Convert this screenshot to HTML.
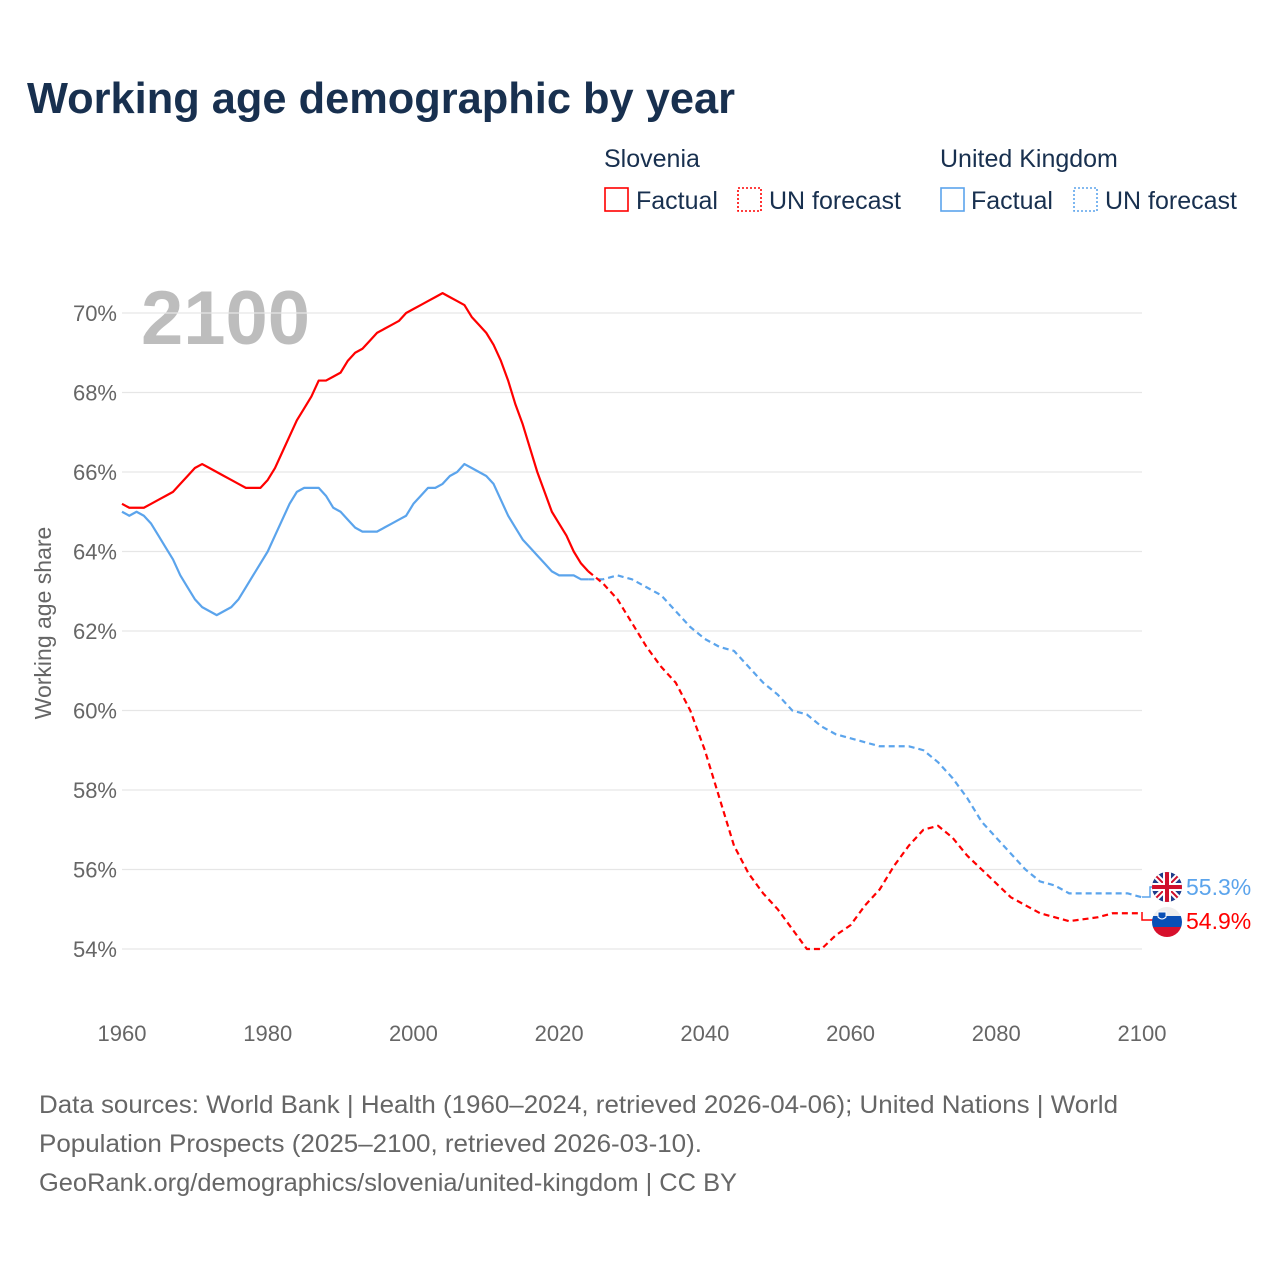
<!DOCTYPE html>
<html><head><meta charset="utf-8"><style>
body{margin:0;background:#fff;font-family:"Liberation Sans",sans-serif;}
svg text{font-family:"Liberation Sans",sans-serif;}
</style></head><body>
<svg id="chart" width="1280" height="1280" viewBox="0 0 1280 1280" xmlns="http://www.w3.org/2000/svg">
<rect width="1280" height="1280" fill="#fff"/>
<text x="27" y="113" font-size="43.5" font-weight="bold" fill="#18304f" textLength="708" lengthAdjust="spacingAndGlyphs">Working age demographic by year</text>
<g font-size="25" fill="#18304f">
<text x="604" y="167">Slovenia</text>
<text x="940" y="167">United Kingdom</text>
<g><rect x="605" y="188" width="23" height="23" fill="none" stroke="#f00" stroke-width="1.6"/><text x="636" y="209" fill="#18304f">Factual</text></g>
<g><rect x="738" y="188" width="23" height="23" fill="none" stroke="#f00" stroke-width="1.6" stroke-dasharray="2 2"/><text x="769" y="209" fill="#18304f">UN forecast</text></g>
<g><rect x="941" y="188" width="23" height="23" fill="none" stroke="#5ba4ec" stroke-width="1.6"/><text x="971" y="209" fill="#18304f">Factual</text></g>
<g><rect x="1074" y="188" width="23" height="23" fill="none" stroke="#5ba4ec" stroke-width="1.6" stroke-dasharray="2 2"/><text x="1105" y="209" fill="#18304f">UN forecast</text></g>
</g>
<text x="141" y="344" font-size="76" font-weight="bold" fill="#bdbdbd">2100</text>
<g id="grid"></g><g id="yticks"></g><g id="xticks"></g><g id="lines"></g>
<text transform="translate(51,623) rotate(-90)" text-anchor="middle" font-size="23" fill="#666">Working age share</text>
<g>
<polyline points="1142,897 1150,897 1150,887 1158,887" fill="none" stroke="#5ba4ec" stroke-width="1.5"/>
<polyline points="1142,912 1142,920 1158,920" fill="none" stroke="#f00" stroke-width="1.5"/>
<g>
<clipPath id="cu"><circle cx="1167" cy="887" r="15"/></clipPath>
<g clip-path="url(#cu)"><rect x="1150" y="870" width="34" height="34" fill="#1f3c8a"/>
<path d="M1150 870L1184 904M1184 870L1150 904" stroke="#fff" stroke-width="6"/>
<path d="M1150 870L1184 904M1184 870L1150 904" stroke="#d0102c" stroke-width="2"/>
<path d="M1167 870V904M1150 887H1184" stroke="#fff" stroke-width="8"/>
<path d="M1167 870V904M1150 887H1184" stroke="#d0102c" stroke-width="4"/></g></g>
<g>
<clipPath id="cs"><circle cx="1167" cy="922" r="15"/></clipPath>
<g clip-path="url(#cs)"><rect x="1150" y="905" width="34" height="11" fill="#eee"/><rect x="1150" y="916" width="34" height="11" fill="#0a4fb5"/><rect x="1150" y="927" width="34" height="12" fill="#d7102c"/>
<path d="M1158 912h8v5q-4 4-8 0z" fill="#0a4fb5" stroke="#fff" stroke-width="1"/></g></g>
<text x="1186" y="895" font-size="23" fill="#5ba4ec">55.3%</text>
<text x="1186" y="929" font-size="23" fill="#f00">54.9%</text>
</g>
<g font-size="25" fill="#666">
<text x="39" y="1113" textLength="1079" lengthAdjust="spacingAndGlyphs">Data sources: World Bank | Health (1960–2024, retrieved 2026-04-06); United Nations | World</text>
<text x="39" y="1152" textLength="663" lengthAdjust="spacingAndGlyphs">Population Prospects (2025–2100, retrieved 2026-03-10).</text>
<text x="39" y="1191" textLength="698" lengthAdjust="spacingAndGlyphs">GeoRank.org/demographics/slovenia/united-kingdom | CC BY</text>
</g>
</svg>
<script>
const svnFactYears=[1960,1961,1962,1963,1964,1965,1966,1967,1968,1969,1970,1971,1972,1973,1974,1975,1976,1977,1978,1979,1980,1981,1982,1983,1984,1985,1986,1987,1988,1989,1990,1991,1992,1993,1994,1995,1996,1997,1998,1999,2000,2001,2002,2003,2004,2005,2006,2007,2008,2009,2010,2011,2012,2013,2014,2015,2016,2017,2018,2019,2020,2021,2022,2023,2024];
const svnFact=[65.2,65.1,65.1,65.1,65.2,65.3,65.4,65.5,65.7,65.9,66.1,66.2,66.1,66.0,65.9,65.8,65.7,65.6,65.6,65.6,65.8,66.1,66.5,66.9,67.3,67.6,67.9,68.3,68.3,68.4,68.5,68.8,69.0,69.1,69.3,69.5,69.6,69.7,69.8,70.0,70.1,70.2,70.3,70.4,70.5,70.4,70.3,70.2,69.9,69.7,69.5,69.2,68.8,68.3,67.7,67.2,66.6,66.0,65.5,65.0,64.7,64.4,64.0,63.7,63.5];
const ukFact=[65.0,64.9,65.0,64.9,64.7,64.4,64.1,63.8,63.4,63.1,62.8,62.6,62.5,62.4,62.5,62.6,62.8,63.1,63.4,63.7,64.0,64.4,64.8,65.2,65.5,65.6,65.6,65.6,65.4,65.1,65.0,64.8,64.6,64.5,64.5,64.5,64.6,64.7,64.8,64.9,65.2,65.4,65.6,65.6,65.7,65.9,66.0,66.2,66.1,66.0,65.9,65.7,65.3,64.9,64.6,64.3,64.1,63.9,63.7,63.5,63.4,63.4,63.4,63.3,63.3];
const foreYears=[2024,2026,2028,2030,2032,2034,2036,2038,2040,2042,2044,2046,2048,2050,2052,2054,2056,2058,2060,2062,2064,2066,2068,2070,2072,2074,2076,2078,2080,2082,2084,2086,2088,2090,2092,2094,2096,2098,2100];
const svnFore=[63.5,63.2,62.8,62.2,61.6,61.1,60.7,60.0,59.0,57.8,56.6,55.9,55.4,55.0,54.5,54.0,54.0,54.35,54.6,55.1,55.5,56.1,56.6,57.0,57.1,56.8,56.35,56.0,55.65,55.3,55.1,54.9,54.8,54.7,54.75,54.8,54.9,54.9,54.9];
const ukFore=[63.3,63.3,63.4,63.3,63.1,62.9,62.5,62.1,61.8,61.6,61.5,61.1,60.7,60.4,60.0,59.9,59.6,59.4,59.3,59.2,59.1,59.1,59.1,59.0,58.7,58.3,57.8,57.2,56.8,56.4,56.0,55.7,55.6,55.4,55.4,55.4,55.4,55.4,55.3];
const yTicks=[54,56,58,60,62,64,66,68,70];
const xTicks=[1960,1980,2000,2020,2040,2060,2080,2100];
const NS="http://www.w3.org/2000/svg";
const xs=y=>122+(y-1960)*(1020/140);
const ys=v=>949-(v-54)*39.75;
function mk(tag,attrs,parent){const e=document.createElementNS(NS,tag);for(const k in attrs)e.setAttribute(k,attrs[k]);document.getElementById(parent).appendChild(e);return e;}
yTicks.forEach(t=>{
 const g=mk('line',{x1:122,x2:1142,y1:ys(t),y2:ys(t),stroke:'#e6e6e6','stroke-width':1.3},'grid');
 
 
 const tx=mk('text',{x:117,y:ys(t)+8,'text-anchor':'end','font-size':22,fill:'#666'},'yticks');
 tx.textContent=t+'%';
 
 
});
xTicks.forEach(t=>{
 const tx=mk('text',{x:xs(t),y:1041,'text-anchor':'middle','font-size':22,fill:'#666'},'xticks');
 tx.textContent=t;
 
 
});
function line(years,vals,color,dash,name){
 const p=mk('polyline',{points:years.map((y,i)=>xs(y)+','+ys(vals[i])).join(' '),fill:'none',stroke:color,'stroke-width':2.2,'stroke-linejoin':'round'},'lines');
 if(dash)p.setAttribute('stroke-dasharray','6 4');
 
 
}
line(foreYears,ukFore,'#5ba4ec',true,'uk-forecast-line');
line(svnFactYears,ukFact,'#5ba4ec',false,'uk-factual-line');
line(foreYears,svnFore,'#f00',true,'slovenia-forecast-line');
line(svnFactYears,svnFact,'#f00',false,'slovenia-factual-line');
</script>
</body></html>
